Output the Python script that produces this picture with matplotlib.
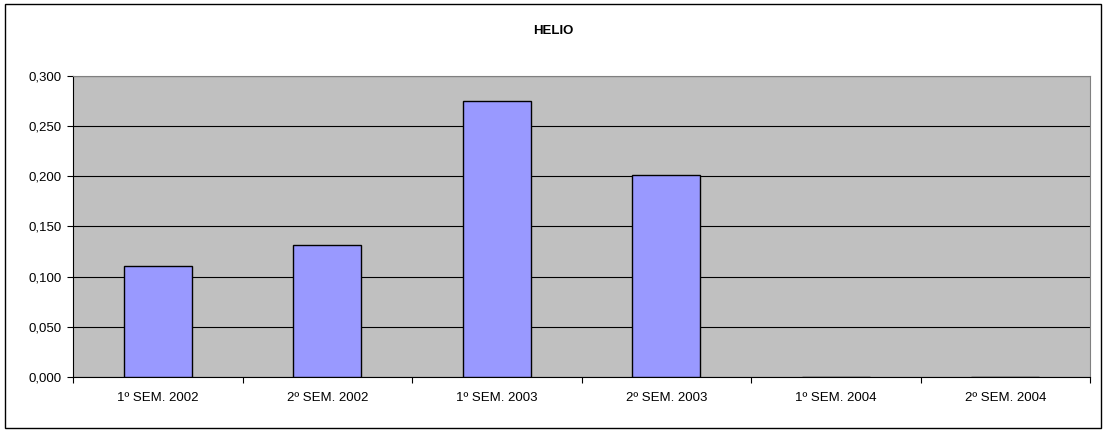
import matplotlib
matplotlib.use("Agg")
import matplotlib.pyplot as plt
from matplotlib.patches import Rectangle
from matplotlib.ticker import FuncFormatter, MultipleLocator

categories = ["1º SEM. 2002", "2º SEM. 2002", "1º SEM. 2003", "2º SEM. 2003", "1º SEM. 2004", "2º SEM. 2004"]
values = [0.111, 0.132, 0.275, 0.201, 0.0, 0.0]
title = "HELIO"

plt.rcParams['font.family'] = ['Liberation Sans', 'DejaVu Sans']

W, H = 1107, 430
fig = plt.figure(figsize=(W / 100, H / 100), dpi=100)
fig.patch.set_facecolor("white")

# outer frame
fig.add_artist(Rectangle((5 / W, 1 - 428 / H), (1101 - 5) / W, (428 - 4) / H,
                         transform=fig.transFigure, fill=False, edgecolor="black", lw=1.0))

left, right, top, bottom = 73, 1090, 76, 377
ax = fig.add_axes([left / W, 1 - bottom / H, (right - left) / W, (bottom - top) / H])
ax.set_facecolor("#C0C0C0")

x = list(range(len(categories)))
ax.bar(x, values, width=0.4, color="#9999FF", edgecolor="black", linewidth=1.0, zorder=3)

ax.set_xlim(-0.5, len(categories) - 0.5)
ax.set_ylim(0, 0.3)
ax.yaxis.set_major_locator(MultipleLocator(0.05))
ax.yaxis.set_major_formatter(FuncFormatter(lambda v, p: f"{v:.3f}".replace(".", ",")))
ax.grid(axis="y", color="black", linewidth=0.8, zorder=1)
ax.set_axisbelow(True)

ax.set_xticks([i - 0.5 for i in range(len(categories) + 1)])
ax.set_xticklabels([])
ax.set_xticks(x, minor=True)
ax.set_xticklabels(categories, minor=True)
ax.tick_params(axis="x", which="minor", length=0, pad=11, labelsize=9.5)
ax.tick_params(axis="x", which="major", direction="out", length=4, width=0.8)
ax.tick_params(axis="y", direction="out", length=4, width=0.8, labelsize=9.5, pad=4)

for s in ["top", "right"]:
    ax.spines[s].set_color("#808080")
    ax.spines[s].set_linewidth(0.8)
for s in ["left", "bottom"]:
    ax.spines[s].set_color("black")
    ax.spines[s].set_linewidth(0.8)

fig.text(553 / W, 1 - 31 / H, title, ha="center", va="center",
         fontsize=9.5, fontweight="bold")

fig.savefig("out.png", dpi=100)
